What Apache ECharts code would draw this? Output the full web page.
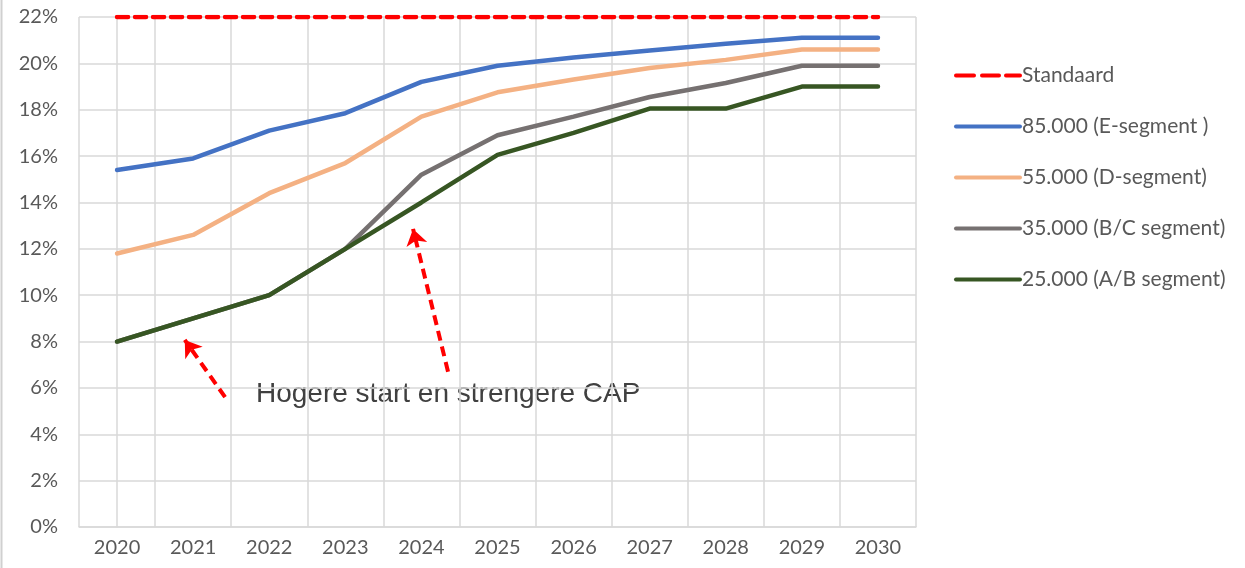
<!DOCTYPE html>
<html>
<head>
<meta charset="utf-8">
<script src="https://cdn.jsdelivr.net/npm/echarts@6/dist/echarts.min.js"></script>
<style>
  html, body { margin: 0; padding: 0; background: #fff; }
  #chart { width: 1245px; height: 568px; }
</style>
</head>
<body>
<div id="chart"></div>
<script>
// jaren op de x-as
const years = ['2020', '2021', '2022', '2023', '2024', '2025', '2026', '2027', '2028', '2029', '2030'];

// waarden in procenten
const standaard = [22, 22, 22, 22, 22, 22, 22, 22, 22, 22, 22];
const eSegment = [15.4, 15.9, 17.1, 17.85, 19.2, 19.9, 20.25, 20.55, 20.85, 21.1, 21.1];
const dSegment = [11.8, 12.6, 14.4, 15.7, 17.7, 18.75, 19.3, 19.8, 20.15, 20.6, 20.6];
const bcSegment = [8, 9, 10, 12, 15.2, 16.9, 17.7, 18.55, 19.15, 19.9, 19.9];
const abSegment = [8, 9, 10, 12, 14, 16.05, 17, 18.05, 18.05, 19, 19];

const seriesNames = [
  'Standaard',
  '85.000 (E-segment )',
  '55.000 (D-segment)',
  '35.000 (B/C segment)',
  '25.000 (A/B segment)'
];

// pijlen van de annotatie (x = jaarindex, y = procent)
const arrowTails = [[1.42, 5.6], [4.35, 6.7]];
const arrowTips = [[0.89, 8.07], [3.89, 12.86]];

const labelFont = 'Lato';
const labelColor = '#595959';

// legenda-iconen: doorgetrokken lijn en streepjeslijn
const solidIcon = 'path://M2,0H66A2,2,0,0,1,66,4H2A2,2,0,0,1,2,0Z';
const dashIcon = 'path://M2,0H20A2,2,0,0,1,20,4H2A2,2,0,0,1,2,0Z M28,0H45A2,2,0,0,1,45,4H28A2,2,0,0,1,28,0Z M52,0H66A2,2,0,0,1,66,4H52A2,2,0,0,1,52,0Z';

const chart = echarts.init(document.getElementById('chart'));

function lineSeries(name, data, color, dashed) {
  return {
    name: name,
    type: 'line',
    data: data,
    symbol: 'none',
    smooth: false,
    lineStyle: {
      color: color,
      width: 4.5,
      type: dashed ? [11, 7] : 'solid',
      cap: 'round'
    },
    itemStyle: { color: color },
    emphasis: { disabled: true }
  };
}

const option = {
  backgroundColor: '#fff',
  animation: false,
  grid: { left: 79, right: 329, top: 17, bottom: 41 },
  legend: {
    orient: 'vertical',
    left: 949,
    top: 60,
    itemWidth: 68,
    itemHeight: 4,
    itemGap: 30,
    itemStyle: { borderWidth: 0 },
    data: seriesNames.map((n, i) => ({ name: n, icon: i === 0 ? dashIcon : solidIcon })),
    textStyle: { color: labelColor, fontFamily: labelFont, fontSize: 21, lineHeight: 20, padding: [0, 0, 0, -5] }
  },
  xAxis: [
    {
      type: 'category',
      data: years,
      boundaryGap: true,
      axisLine: { show: true, lineStyle: { color: '#d9d9d9', width: 1.5 } },
      axisTick: { show: false },
      splitLine: { show: true, lineStyle: { color: '#d9d9d9', width: 1.5 } },
      axisLabel: { color: labelColor, fontFamily: labelFont, fontSize: 20, margin: 11 }
    },
    {
      type: 'value',
      min: -0.5,
      max: 10.5,
      show: false
    }
  ],
  yAxis: {
    type: 'value',
    min: 0,
    max: 22,
    interval: 2,
    axisLine: { show: true, lineStyle: { color: '#d9d9d9', width: 1.5 } },
    axisTick: { show: false },
    splitLine: { lineStyle: { color: '#d9d9d9', width: 1.5 } },
    axisLabel: {
      formatter: '{value}%',
      color: labelColor,
      fontFamily: labelFont,
      fontSize: 20,
      margin: 21
    }
  },
  graphic: [
    {
      type: 'text',
      left: 256,
      top: 380,
      style: {
        text: 'Hogere start en strengere CAP',
        fill: '#404040',
        font: '28px "Liberation Sans", Arial, sans-serif'
      }
    },
    {
      type: 'line',
      shape: { x1: 1.5, y1: 0, x2: 1.5, y2: 568 },
      style: { stroke: '#d0d0d0', lineWidth: 2 }
    }
  ],
  series: [
    lineSeries(seriesNames[0], standaard, '#ff0000', true),
    lineSeries(seriesNames[1], eSegment, '#4472c4'),
    lineSeries(seriesNames[2], dSegment, '#f4b183'),
    lineSeries(seriesNames[3], bcSegment, '#767171'),
    lineSeries(seriesNames[4], abSegment, '#375623'),
    {
      type: 'lines',
      coordinateSystem: 'cartesian2d',
      xAxisIndex: 1,
      yAxisIndex: 0,
      symbol: ['none', 'arrow'],
      symbolSize: 16,
      lineStyle: { color: '#ff0000', width: 4, type: [10, 6], opacity: 1 },
      data: arrowTails.map((t, i) => ({ coords: [t, arrowTips[i]] })),
      z: 5
    }
  ]
};

chart.setOption(option);
window.addEventListener('resize', () => chart.resize());
</script>
</body>
</html>
